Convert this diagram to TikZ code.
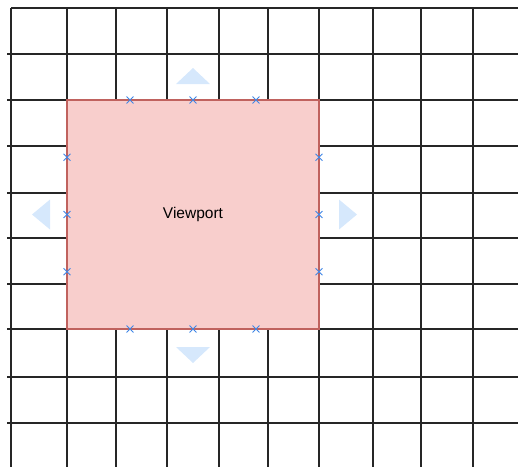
\documentclass[tikz,border=0pt]{standalone}
\usepackage{fontspec}
\setmainfont{Liberation Sans}
\usetikzlibrary{positioning, calc, shapes.misc}
\definecolor{vpfill}{HTML}{F8CECC}
\definecolor{vpline}{HTML}{C0625E}
\definecolor{hintblue}{RGB}{214,232,252}
\definecolor{ptblue}{HTML}{3F86E6}

\begin{document}
\begin{tikzpicture}[
  x=1pt, y=-1pt,
  gridline/.style={line width=1.1pt, black!85},
  vpbox/.style={draw=vpline, fill=vpfill, line width=1.2pt, outer sep=0pt,
    minimum width=252pt, minimum height=229pt, font=\fontsize{15.5}{19}\selectfont},
  cpt/.style={cross out, draw=ptblue, line width=0.9pt, minimum size=6pt, inner sep=0pt},
  hint/.style={fill=hintblue, draw=none},
]
  \useasboundingbox (0, 0) rectangle (518, 467);

  % grid
  \foreach \x in {11,67,116,167,219,268,319,373,421,473} {
    \draw[gridline] (\x, 8) -- (\x, 467);
  }
  \foreach \y in {54,100,146,193,238,284,329,377,423} {
    \draw[gridline] (7, \y) -- (518, \y);
  }
  \draw[gridline] (11, 8) -- (518, 8);

  \node[vpbox] (vp) at (193, 214.5) {Viewport};

  % connection points
  \foreach \t/\i in {0.25/1, 0.5/2, 0.75/3} {
    \node[cpt] (top\i) at ($(vp.north west)!\t!(vp.north east)$) {};
    \node[cpt] (bot\i) at ($(vp.south west)!\t!(vp.south east)$) {};
    \node[cpt] (lft\i) at ($(vp.north west)!\t!(vp.south west)$) {};
    \node[cpt] (rgt\i) at ($(vp.north east)!\t!(vp.south east)$) {};
  }

  % move hints
  \fill[hint] ($(vp.north)+(0,-32)$) -- ($(vp.north)+(-17,-16)$)
    -- ($(vp.north)+(17,-16)$) -- cycle;
  \fill[hint] ($(vp.south)+(0,34)$) -- ($(vp.south)+(-17,18)$)
    -- ($(vp.south)+(17,18)$) -- cycle;
  \fill[hint] ($(vp.west)+(-35,0)$) -- ($(vp.west)+(-17,-15)$)
    -- ($(vp.west)+(-17,15)$) -- cycle;
  \fill[hint] ($(vp.east)+(38,0)$) -- ($(vp.east)+(20,-15)$)
    -- ($(vp.east)+(20,15)$) -- cycle;
\end{tikzpicture}
\end{document}
